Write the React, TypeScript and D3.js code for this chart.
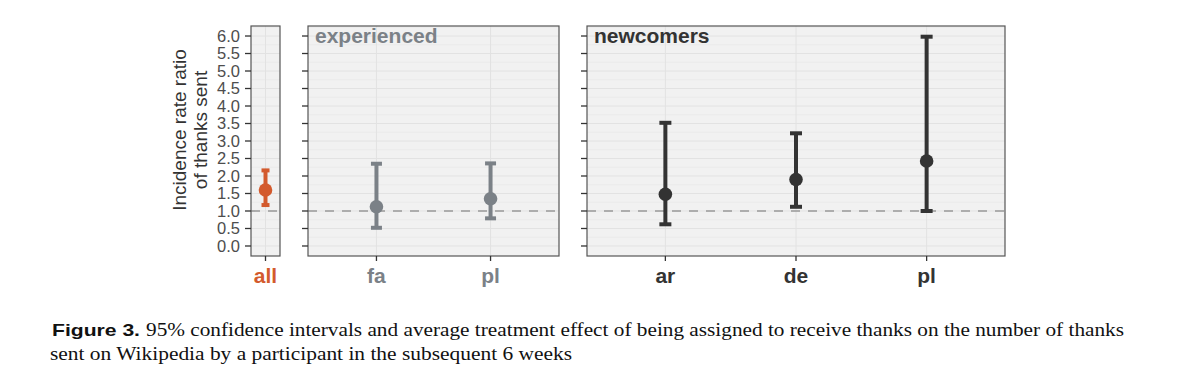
import React from "react";
import * as d3 from "d3";

// values (incidence rate ratio, 95% CI)
const allCats = ["all"];
const allEst = [1.6];
const allLo = [1.17];
const allHi = [2.16];

const expCats = ["fa", "pl"];
const expEst = [1.12, 1.35];
const expLo = [0.52, 0.79];
const expHi = [2.35, 2.36];

const newCats = ["ar", "de", "pl"];
const newEst = [1.48, 1.9, 2.43];
const newLo = [0.62, 1.12, 1.0];
const newHi = [3.52, 3.22, 5.98];

const yTicks = d3.range(0, 6.01, 0.5);
const yMinor = d3.range(0.25, 6.3, 0.5);

const panels = [
  { label: "", cats: allCats, est: allEst, lo: allLo, hi: allHi, color: "#d35a2d", x0: 251, x1: 280, cap: 4 },
  { label: "experienced", cats: expCats, est: expEst, lo: expLo, hi: expHi, color: "#7b8187", x0: 308, x1: 559, cap: 5.5 },
  { label: "newcomers", cats: newCats, est: newEst, lo: newLo, hi: newHi, color: "#333333", x0: 587, x1: 1005, cap: 6 },
];

const top = 26;
const bottom = 256;
const y = d3.scaleLinear().domain([-0.286, 6.286]).range([bottom, top]);

const sans = "'Liberation Sans', Arial, Helvetica, sans-serif";
const serif = "'Liberation Serif', 'Times New Roman', serif";

const Panel: React.FC<{ p: (typeof panels)[number]; first: boolean }> = ({ p, first }) => {
  const x = d3.scalePoint<string>().domain(p.cats).range([p.x0, p.x1]).padding(0.6);
  return (
    <g>
      <rect x={p.x0} y={top} width={p.x1 - p.x0} height={bottom - top} fill="#f1f1f1" />
      {yMinor.map((t) => (
        <line key={"mi" + t} x1={p.x0} x2={p.x1} y1={y(t)} y2={y(t)} stroke="#e8e8e8" strokeWidth={0.7} />
      ))}
      {yTicks.map((t) => (
        <line key={"ma" + t} x1={p.x0} x2={p.x1} y1={y(t)} y2={y(t)} stroke="#e2e2e2" strokeWidth={1} />
      ))}
      {p.cats.map((c) => (
        <line key={"vg" + c} x1={x(c)!} x2={x(c)!} y1={top} y2={bottom} stroke="#e2e2e2" strokeWidth={1} />
      ))}
      <line x1={p.x0} x2={p.x1} y1={y(1)} y2={y(1)} stroke="#999" strokeWidth={1.6} strokeDasharray="9,8" />
      {p.label && (
        <text x={p.x0 + 7} y={top + 17} fontFamily={sans} fontWeight="bold" fontSize={21} fill={p.color}>
          {p.label}
        </text>
      )}
      {p.cats.map((c, i) => {
        const cx = x(c)!;
        return (
          <g key={"eb" + c}>
            <line x1={cx} x2={cx} y1={y(p.hi[i])} y2={y(p.lo[i])} stroke={p.color} strokeWidth={4} />
            <line x1={cx - p.cap} x2={cx + p.cap} y1={y(p.hi[i])} y2={y(p.hi[i])} stroke={p.color} strokeWidth={4} />
            <line x1={cx - p.cap} x2={cx + p.cap} y1={y(p.lo[i])} y2={y(p.lo[i])} stroke={p.color} strokeWidth={4} />
            <circle cx={cx} cy={y(p.est[i])} r={6.8} fill={p.color} />
          </g>
        );
      })}
      <rect x={p.x0} y={top} width={p.x1 - p.x0} height={bottom - top} fill="none" stroke="#555" strokeWidth={1.2} />
      {yTicks.map((t) => (
        <g key={"yt" + t}>
          <line x1={p.x0 - 6} x2={p.x0} y1={y(t)} y2={y(t)} stroke="#333" strokeWidth={1.3} />
          {first && (
            <text x={p.x0 - 11} y={y(t)} dy="0.36em" textAnchor="end" fontFamily={sans} fontSize={16.5} fill="#4d4d4d">
              {d3.format(".1f")(t)}
            </text>
          )}
        </g>
      ))}
      {p.cats.map((c) => (
        <g key={"xt" + c}>
          <line x1={x(c)!} x2={x(c)!} y1={bottom} y2={bottom + 5} stroke="#333" strokeWidth={1.3} />
          <text x={x(c)!} y={bottom + 27} textAnchor="middle" fontFamily={sans} fontWeight="bold" fontSize={21} fill={p.color}>
            {c}
          </text>
        </g>
      ))}
    </g>
  );
};

const App: React.FC = () => {
  return (
    <svg width={1200} height={384} style={{ position: "absolute", left: 0, top: 0, background: "#fff" }}>
      <rect width={1200} height={384} fill="#fff" />
      {panels.map((p, i) => (
        <Panel key={i} p={p} first={i === 0} />
      ))}
      <text transform={`translate(186,130) rotate(-90)`} textAnchor="middle" fontFamily={sans} fontSize={19} fill="#333">
        Incidence rate ratio
      </text>
      <text transform={`translate(207,130) rotate(-90)`} textAnchor="middle" fontFamily={sans} fontSize={19} fill="#333">
        of thanks sent
      </text>
      <text x={52} y={336} fontFamily={sans} fontWeight="bold" fontSize={17} fill="#111" textLength={88} lengthAdjust="spacingAndGlyphs">
        Figure 3.
      </text>
      <text x={146} y={336} fontFamily={serif} fontSize={19} fill="#111" textLength={978} lengthAdjust="spacingAndGlyphs">
        95% confidence intervals and average treatment effect of being assigned to receive thanks on the number of thanks
      </text>
      <text x={50} y={360} fontFamily={serif} fontSize={19} fill="#111" textLength={522} lengthAdjust="spacingAndGlyphs">
        sent on Wikipedia by a participant in the subsequent 6 weeks
      </text>
    </svg>
  );
};

export default App;
